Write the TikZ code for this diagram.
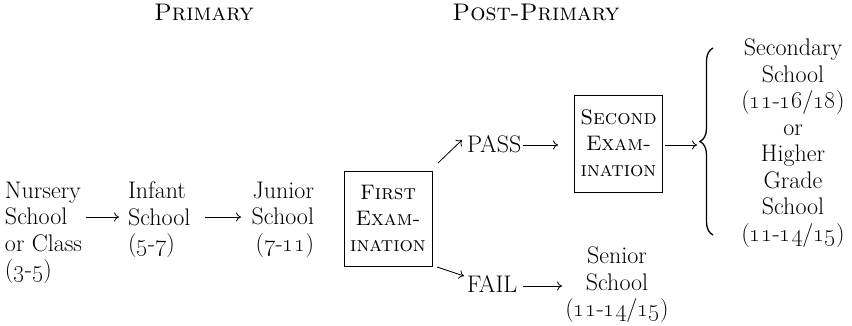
\documentclass[tikz,border=0pt]{standalone}
\usetikzlibrary{arrows.meta,decorations.pathreplacing}
\newcommand{\os}[1]{\oldstylenums{#1}}
\begin{document}
\begin{tikzpicture}[x=1pt,y=-1pt,
  every node/.style={inner sep=0pt,outer sep=0pt,font=\fontsize{24}{26.5}\selectfont},
  arr/.style={line width=0.8pt,-{Computer Modern Rightarrow[length=5pt,width=9pt]}},
  exambox/.style={draw,line width=0.8pt,align=center,minimum width=88pt,font=\fontsize{21}{26}\selectfont},
  brc/.style={line width=1.3pt,decorate,decoration={brace,amplitude=13pt,aspect=0.5}}]
\useasboundingbox (0,0) rectangle (852,326);
% headers
\node[anchor=base] (hprim) at (204,21) {\textsc{Primary}};
\node[anchor=base] (hpost) at (536,21) {\textsc{Post-Primary}};
% primary
\node[anchor=north west,align=left] (nurs) at (5,182) {Nursery\\School\\or Class\\(\os{3}-\os{5})};
\node[anchor=north west,align=left] (inf) at (128,182) {Infant\\School\\(\os{5}-\os{7})};
\node[anchor=north east,align=right] (jun) at (314,182) {Junior\\School\\(\os{7}-\os{11})};
\node[exambox,minimum height=95pt] (ex1) at (388,218.5) {\textsc{First}\\\textsc{Exam-}\\\textsc{ination}};
% post-primary
\node[anchor=base west] (pass) at (467,153) {PASS};
\node[anchor=base west] (fail) at (467,292) {FAIL};
\node[exambox,minimum height=97pt] (ex2) at (618.5,143.5) {\textsc{Second}\\\textsc{Exam-}\\\textsc{ination}};
\node[anchor=north,align=center] (sec) at (793,39) {Secondary\\School\\(\os{11}-\os{16}/\os{18})\\or\\Higher\\Grade\\School\\(\os{11}-\os{14}/\os{15})};
\node[anchor=north,align=center] (sen) at (617,247) {Senior\\School\\(\os{11}-\os{14}/\os{15})};
% connector end points
\coordinate (n1) at (86,217);  \coordinate (i1) at (119,217);
\coordinate (i2) at (205,217); \coordinate (j1) at (241,217);
\coordinate (e1) at (438,163); \coordinate (p1) at (462,140);
\coordinate (e2) at (437,267); \coordinate (f1) at (464,276);
\coordinate (p2) at (523,145); \coordinate (s1) at (558,145);
\coordinate (f2) at (523,286); \coordinate (s2) at (562,286);
\coordinate (s3) at (665,145); \coordinate (b1) at (697,145);
\coordinate (bt) at (713,235); \coordinate (bb) at (713,48);
\draw[arr] (n1) -- (i1);
\draw[arr] (i2) -- (j1);
\draw[arr] (e1) -- (p1);
\draw[arr] (e2) -- (f1);
\draw[arr] (p2) -- (s1);
\draw[arr] (f2) -- (s2);
\draw[arr] (s3) -- (b1);
\draw[brc] (bt) -- (bb);
\end{tikzpicture}
\end{document}
